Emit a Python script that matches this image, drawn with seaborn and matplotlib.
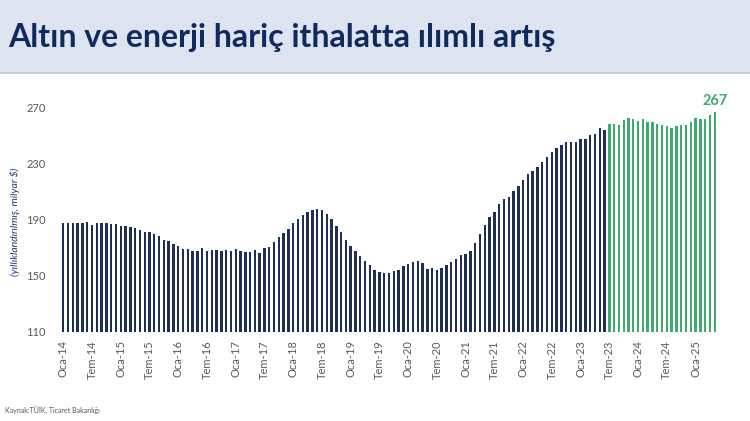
import matplotlib
matplotlib.use("Agg")
import matplotlib.pyplot as plt
from matplotlib.patches import Rectangle
import seaborn as sns
import pandas as pd

# ---- data ----
years = list(range(2014, 2026))
month_names = ["Oca", "Şub", "Mar", "Nis", "May", "Haz",
               "Tem", "Ağu", "Eyl", "Eki", "Kas", "Ara"]

# Jan 2014 - Jun 2023 (dark bars)
values_past = [
    188.0, 188.0, 188.0, 188.0, 188.0, 188.5, 186.2, 188.0, 188.0, 187.9, 187.4, 187.1,
    185.9, 185.6, 185.0, 184.3, 182.6, 181.7, 181.2, 180.2, 178.6, 175.7, 175.0, 173.0,
    171.2, 169.3, 169.0, 168.1, 168.1, 169.8, 167.9, 168.4, 168.8, 168.1, 168.8, 168.1,
    169.0, 168.1, 167.1, 167.1, 168.4, 166.2, 169.8, 170.7, 174.3, 178.1, 180.5, 183.8,
    188.1, 190.5, 193.3, 195.5, 197.4, 197.6, 197.1, 194.3, 190.7, 185.5, 181.2, 175.7,
    171.4, 167.9, 164.0, 160.9, 157.6, 154.3, 152.6, 152.4, 152.4, 153.6, 154.5, 157.1,
    158.6, 159.8, 160.7, 159.0, 155.0, 155.9, 154.3, 155.5, 157.6, 159.8, 162.1, 164.8,
    165.7, 167.9, 173.3, 180.0, 186.7, 192.4, 195.7, 201.4, 205.2, 206.4, 210.5, 214.5,
    218.8, 223.1, 225.0, 227.9, 231.7, 235.2, 238.3, 241.6, 243.8, 245.7, 245.7, 245.7,
    247.9, 247.9, 250.7, 251.7, 256.0, 254.1,
]
# Jul 2023 - May 2025 (green bars)
values_recent = [
    258.4, 258.4, 258.2, 261.4, 263.1, 261.9,
    260.7, 261.9, 260.2, 260.2, 258.6, 258.2, 257.4, 256.0, 257.4, 257.9, 258.2, 260.2,
    262.6, 261.9, 262.1, 265.0, 267.0,
]
last_label = "267"
title = "Altın ve enerji hariç ithalatta ılımlı artış"
ylabel = "(yıllıklandırılmış, milyar $)"
source = "Kaynak:TÜİK, Ticaret Bakanlığı"
yticks = [110, 150, 190, 230, 270]

values = values_past + values_recent
months = [f"{m}-{str(y)[2:]}" for y in years for m in month_names][:len(values)]
period = ["past"] * len(values_past) + ["recent"] * len(values_recent)
df = pd.DataFrame({"month": months, "value": values, "period": period})

navy = "#1f2e54"
green = "#3dab6d"
grey = "#595959"

sns.set_theme(style="white")
plt.rcParams["font.family"] = ["Lato", "DejaVu Sans"]

fig = plt.figure(figsize=(7.5, 4.21), dpi=100)

# title band
fig.patches.append(Rectangle((0, 1 - 73 / 421), 1, 73 / 421, transform=fig.transFigure,
                             facecolor="#dde4ef", edgecolor="none", zorder=0))
fig.patches.append(Rectangle((0, 1 - 74 / 421), 1, 2 / 421, transform=fig.transFigure,
                             facecolor="#c3ccda", edgecolor="none", zorder=1))
fig.text(8 / 750, 1 - 38 / 421, title, fontsize=23, fontweight="bold",
         color="#0f2a5e", va="center", ha="left")

ax = fig.add_axes([60.9 / 750, 1 - 332 / 421, (717.1 - 60.9) / 750, (332 - 94) / 421])
sns.barplot(data=df, x="month", y="value", hue="period",
            palette={"past": navy, "recent": green}, dodge=False,
            width=0.5, legend=False, ax=ax, saturation=1, linewidth=0)

ax.set_ylim(110, 280)
ax.set_xlim(-0.5, len(values) - 0.5)
ax.set_yticks(yticks)
ax.set_yticklabels([str(t) for t in yticks], fontsize=8, color=grey)
tick_pos = list(range(0, len(values), 6))
ax.set_xticks(tick_pos)
ax.set_xticklabels([months[i] for i in tick_pos], rotation=90, fontsize=8, color=grey)
ax.tick_params(axis="both", length=0)
ax.tick_params(axis="y", pad=11)
ax.tick_params(axis="x", pad=6)
ax.set_xlabel("")
ax.set_ylabel("")
for s in ax.spines.values():
    s.set_visible(False)

ax.text(len(values) - 1, values[-1] + 3, last_label, color=green, fontsize=10.5,
        fontweight="bold", ha="center", va="bottom")

fig.text(15 / 750, 1 - 222 / 421, ylabel, rotation=90, fontsize=7.5, style="italic",
         color="#1f3a6e", ha="center", va="center")
fig.text(5 / 750, 1 - 411 / 421, source, fontsize=5, color="#555555",
         ha="left", va="center")

fig.savefig("out.png", dpi=100)
